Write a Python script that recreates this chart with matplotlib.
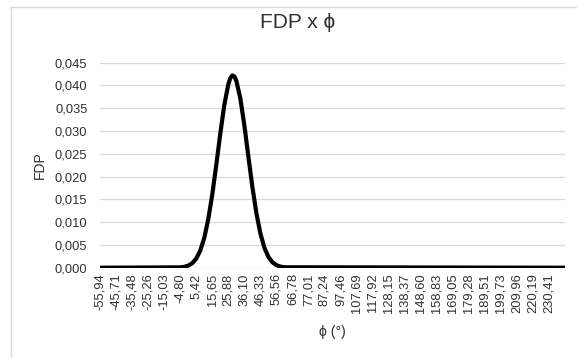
import matplotlib
matplotlib.use("Agg")
import matplotlib.pyplot as plt
from matplotlib.lines import Line2D
from matplotlib.ticker import FuncFormatter

plt.rcParams['font.family'] = ['Liberation Sans', 'DejaVu Sans']

# ---- data ----
tick_labels = ["-55,94", "-45,71", "-35,48", "-25,26", "-15,03", "-4,80", "5,42",
               "15,65", "25,88", "36,10", "46,33", "56,56", "66,78", "77,01",
               "87,24", "97,46", "107,69", "117,92", "128,15", "138,37", "148,60",
               "158,83", "169,05", "179,28", "189,51", "199,73", "209,96", "220,19",
               "230,41"]
phi = [-55.94, -4.80, -2.24, 0.31, 2.87, 5.42, 7.98, 10.54, 13.09, 15.65, 18.21,
       20.76, 23.32, 25.88, 27.15, 28.43, 29.71, 30.99, 33.55, 36.10, 38.66, 41.21,
       43.77, 46.33, 48.88, 51.44, 54.00, 56.56, 59.11, 61.67, 240.66]
fdp = [0.0, 0.00008, 0.00019, 0.00045, 0.00098, 0.00198, 0.00373, 0.00652,
       0.01060, 0.01603, 0.02252, 0.02938, 0.03567, 0.04023, 0.04160, 0.04220,
       0.04200, 0.04108, 0.03719, 0.03133, 0.02449, 0.01782, 0.01203, 0.00756,
       0.00442, 0.00239, 0.00121, 0.00056, 0.00025, 0.00010, 0.0]
y_ticks = [0.000, 0.005, 0.010, 0.015, 0.020, 0.025, 0.030, 0.035, 0.040, 0.045]

tick_pos = [float(s.replace(",", ".")) for s in tick_labels]

TXT = "#303030"

fig = plt.figure(figsize=(5.77, 3.58), dpi=100)
ax = fig.add_axes([0.1733, 0.2522, 0.806, 0.5727])

ax.plot(phi, fdp, color="black", linewidth=3.0, solid_joinstyle="round",
        solid_capstyle="butt", zorder=3)

ax.set_xlim(phi[0], phi[-1])
ax.set_ylim(y_ticks[0], y_ticks[-1])
ax.set_yticks(y_ticks)
ax.yaxis.set_major_formatter(FuncFormatter(lambda v, p: f"{v:.3f}".replace(".", ",")))
ax.set_xticks(tick_pos)
ax.set_xticklabels(tick_labels, rotation=90)
ax.tick_params(axis="both", length=0, labelsize=9.3, colors=TXT, pad=4)
ax.tick_params(axis="y", pad=9)
ax.grid(axis="y", color="#d9d9d9", linewidth=0.9)
ax.set_axisbelow(True)
for s in ax.spines.values():
    s.set_visible(False)

fig.text(0.515, 0.937, "FDP x ϕ", ha="center", va="center", fontsize=15, color=TXT)
fig.text(0.069, (0.2522 + 0.2522 + 0.5727) / 2, "FDP", rotation=90, ha="center",
         va="center", fontsize=10, color=TXT)
fig.text((0.1733 + 0.1733 + 0.806) / 2, 0.073, "ϕ (°)", ha="center", va="center",
         fontsize=10, color=TXT)

# chart-area border (left and top edges visible)
fig.add_artist(Line2D([11.5 / 577, 11.5 / 577], [0, 1 - 6.5 / 358], color="#d9d9d9",
                      linewidth=1.0, transform=fig.transFigure))
fig.add_artist(Line2D([11.5 / 577, 1], [1 - 6.5 / 358, 1 - 6.5 / 358], color="#d9d9d9",
                      linewidth=1.0, transform=fig.transFigure))

fig.savefig("out.png", dpi=100)
